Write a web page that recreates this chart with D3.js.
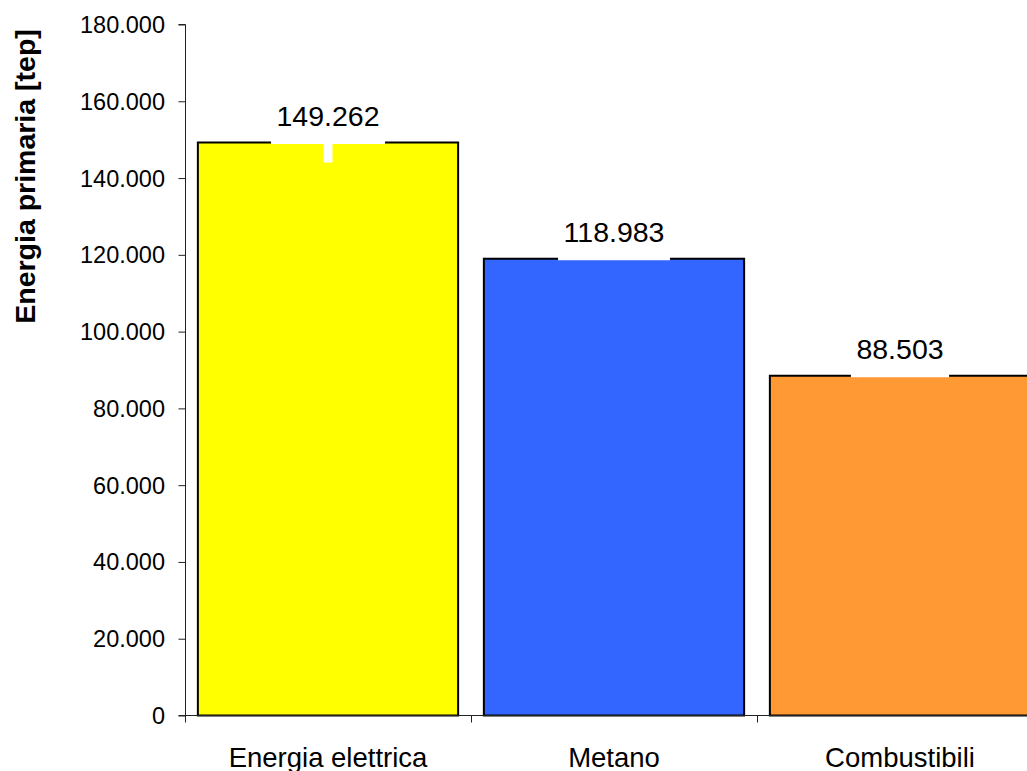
<!DOCTYPE html>
<html>
<head>
<meta charset="utf-8">
<script src="https://cdn.jsdelivr.net/npm/d3@7"></script>
<style>
  html, body { margin: 0; padding: 0; background: #fff; }
  svg { display: block; }
  text { font-family: Arial, "Liberation Sans", sans-serif; fill: #000; }
</style>
</head>
<body>
<script>
// Energia primaria per vettore energetico [tep]
const categories = ["Energia elettrica", "Metano", "Combustibili"];
const values = [149262, 118983, 88503];
const colors = ["#FFFF00", "#3366FF", "#FF9933"];
const yTicks = [0, 20000, 40000, 60000, 80000, 100000, 120000, 140000, 160000, 180000];
const yTitle = "Energia primaria [tep]";

const W = 1027, H = 771;

const fmt = v => v === 0 ? "0" : d3.format(",")(v).replace(/,/g, ".");
const fmtVal = v => d3.format(",")(v).replace(/,/g, ".");

const svg = d3.select("body").append("svg")
  .attr("width", W).attr("height", H);

const x = d3.scaleBand()
  .domain(categories)
  .range([185, 1043])
  .paddingInner(0.09)
  .paddingOuter(0.045);

const y = d3.scaleLinear()
  .domain([0, 180000])
  .range([715.5, 24.5]);

// bars
svg.append("g").selectAll("rect")
  .data(categories)
  .join("rect")
  .attr("x", d => x(d))
  .attr("y", (d, i) => y(values[i]))
  .attr("width", x.bandwidth())
  .attr("height", (d, i) => y(0) - y(values[i]))
  .attr("fill", (d, i) => colors[i])
  .attr("stroke", "#000")
  .attr("stroke-width", 2);

// y axis
const yAxis = d3.axisLeft(y)
  .tickValues(yTicks)
  .tickSize(7)
  .tickFormat(() => "");
const gy = svg.append("g")
  .attr("transform", "translate(185.5,0)")
  .call(yAxis);
gy.select(".domain").attr("stroke", "#222").attr("d", `M-7,${y(180000)}H0V${y(0)}H-7`);
gy.selectAll(".tick line").attr("stroke", "#222");

// y tick labels
svg.append("g").selectAll("text")
  .data(yTicks)
  .join("text")
  .attr("x", 165)
  .attr("y", d => y(d))
  .attr("dy", "0.36em")
  .attr("text-anchor", "end")
  .style("font-size", "23.5px")
  .text(fmt);

// x axis
const xAxisLine = svg.append("g");
xAxisLine.append("line")
  .attr("x1", 185).attr("x2", W)
  .attr("y1", y(0)).attr("y2", y(0))
  .attr("stroke", "#222");
const step = x.step();
const boundaries = categories.map((d, i) => x.range()[0] + i * step);
xAxisLine.selectAll("line.tk")
  .data(boundaries)
  .join("line")
  .attr("class", "tk")
  .attr("x1", d => Math.round(d) + 0.5).attr("x2", d => Math.round(d) + 0.5)
  .attr("y1", y(0)).attr("y2", y(0) + 7)
  .attr("stroke", "#222");

// category labels
svg.append("g").selectAll("text")
  .data(categories)
  .join("text")
  .attr("x", d => x(d) + x.bandwidth() / 2)
  .attr("y", 766.5)
  .attr("text-anchor", "middle")
  .style("font-size", "27.5px")
  .text(d => d);

// value labels on a white plate that sits on the bar top
const lab = svg.append("g").selectAll("g")
  .data(categories)
  .join("g")
  .attr("transform", (d, i) => `translate(${x(d) + x.bandwidth() / 2},${y(values[i])})`);

lab.append("rect")
  .attr("class", "plate")
  .attr("fill", "#fff");

lab.append("text")
  .attr("y", -16.5)
  .attr("text-anchor", "middle")
  .style("font-size", "28.5px")
  .text((d, i) => fmtVal(values[i]));

lab.each(function () {
  const g = d3.select(this);
  const bb = g.select("text").node().getBBox();
  const w = bb.width + 11;
  g.select("rect.plate")
    .attr("x", -w / 2)
    .attr("y", -46)
    .attr("width", w)
    .attr("height", 47.5);
});

// small white notch under the first label
lab.filter((d, i) => i === 0).append("rect")
  .attr("x", -4.5).attr("y", 0)
  .attr("width", 9).attr("height", 20)
  .attr("fill", "#fff");

// y title
svg.append("text")
  .attr("transform", "translate(35,176.5) rotate(-90)")
  .attr("text-anchor", "middle")
  .style("font-size", "28.5px")
  .style("font-weight", "bold")
  .text(yTitle);
</script>
</body>
</html>
